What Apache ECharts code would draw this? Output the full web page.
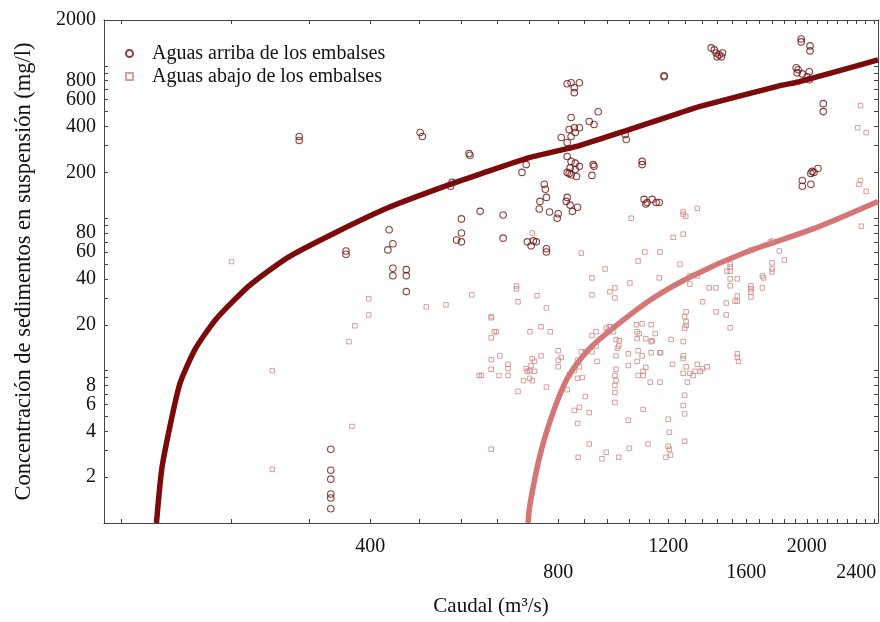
<!DOCTYPE html>
<html>
<head>
<meta charset="utf-8">
<title>Caudal y sedimentos en suspensión</title>
<script src="https://cdn.jsdelivr.net/npm/echarts@6/dist/echarts.min.js"></script>
<style>
html, body { margin: 0; padding: 0; background: #fff; }
#chart { width: 880px; height: 622px; }
</style>
</head>
<body>
<div id="chart"></div>
<script>
// puntos: [caudal m3/s, concentracion mg/l]
var aguasArriba = [
    [308,344],[308,324],[481,365],[485,344],[576,266],[578,259],[541,172],[538,162],
    [560,99],[560,80],[550,72],[560,70],[429,84],[435,68],[427,62],[366,61],[366,58],
    [435,47],[435,42],[457,46],[457,42],[457,33],
    [346,3.05],[346,2.22],[346,1.94],[346,1.55],[346,1.46],[346,1.24],
    [700,200],[711,225],[760,167],[763,155],[748,129],[766,137],
    [827,763],[839,775],[849,719],[865,775],[849,667],[839,458],
    [833,382],[849,393],[865,393],[852,365],[839,344],[827,314],[809,339],
    [897,431],[913,412],[927,500],[827,254],
    [839,236],[852,230],[865,219],[836,214],[852,209],[833,197],[839,193],[856,188],[827,200],
    [910,225],[913,219],[906,191],[1024,354],[1028,329],[1090,236],[1090,225],
    [1098,133],[1110,127],[1131,133],[1148,127],[1161,127],[1105,124],
    [1182,861],[1182,848],
    [1406,1312],[1422,1274],[1432,1216],[1448,1180],[1466,1216],[1460,1146],[1437,1146],
    [1959,1502],[1959,1436],[2024,1352],[2024,1254],
    [1923,971],[1937,942],[1930,900],[1967,886],[2018,914],[2003,848],[2018,811],
    [2125,565],[2125,501],[2084,212],[2053,200],[2030,197],[2040,203],
    [1967,177],[1967,162],[2030,167],
    [746,115],[775,110],[800,107],[797,100],
    [827,137],[824,129],[836,122],[859,118],[843,111],
    [600,111],[653,105],[653,74],
    [714,70],[724,66],[730,71],[738,70],[766,63],[766,60]
];

var aguasAbajo = [
    [240,52],[279,10],[279,2.25],[398,29.6],[398,23.2],[378,19.7],[370,15.5],[374,4.3],
    [492,26.2],[529,27],[582,31.4],[598,9.3],
    [727,80],[871,59],[951,46.4],[906,40.6],[906,31.4],[968,32.9],[986,34.9],[986,30],
    [686,34.4],[686,36],[740,31],[690,28.3],[766,25.8],
    [625,22.2],[637,18],[625,16.4],[721,18],[751,19.4],[777,18],[1002,15.7],
    [1047,100],[1268,106],[1280,103],[1268,110],[1336,116],[1222,75],[1268,78.7],
    [1164,60],[1101,60],[1074,52.4],
    [1042,37.6],[1161,40.6],[1253,50],[1300,37],[1300,41.8],[1336,41.8],[1362,28.3],
    [1396,34.9],[1430,34.9],
    [1508,36],[1548,40],[1508,40],[1508,45],[1508,47.9],[1490,45],[1508,50],
    [1548,30.9],[1548,28.6],[1535,28.6],[1486,27.8],
    [1628,36],[1628,34.4],[1628,32.9],[1628,30.4],
    [1698,34.9],[1698,41.8],[1705,40.6],
    [1760,44.4],[1760,46.4],[1760,50.9],[1841,53.2],[1807,61],[1760,70.8],[1748,69.7],[1628,61.8],
    [2445,88.7],[2437,548],[2412,393],[2489,365],[2437,177],[2424,167],[2489,150],
    [1508,19.1],[1432,24.3],[1486,23.2],
    [1548,12.9],[1548,12.2],[1555,11.5],
    [1282,24.3],[1275,22.6],[1282,20.9],[1282,19.8],[1275,19],
    [1268,15.5],[1268,12.5],[1268,12],
    [1282,10.6],[1268,9.6],[1300,9.6],[1325,9.9],[1336,11],[1362,10.3],[1385,10.6],[1315,9.3],[1351,9.9],
    [1288,8.4],[1275,6.9],[1268,5.9],[1275,5.2],
    [1200,4.8],[1205,3.94],[1200,3.19],[1205,3.05],[1210,2.79],[1190,2.7],
    [1275,3.44],[1114,3.3],[1040,3.1],[1000,2.7],[955,2.91],[940,2.64],[861,2.7],[897,3.3],
    [1036,4.72],[1094,5.56],[859,4.5],[849,5.48],[865,5.74],[897,5.3],[884,6.76],
    [986,6.18],[986,7.19],[986,8],[990,8.6],[986,9.3],[990,10.2],
    [1036,10.8],[1036,12.9],[1074,13.5],[1090,12.5],[1127,13.1],[1167,13.1],
    [1070,16.2],[1105,16.2],[1070,18],[1090,20.3],[1067,20],[1078,17.5],[1127,15.5],[1131,15.7],
    [1144,17.5],[1127,20],
    [1213,16],[1164,13.1],[1219,11],[1094,9.9],[1105,10.5],
    [990,12.5],[995,14],[1000,14.5],[1070,11.5],[1094,9.3],[1074,9.3],
    [1164,8.4],[1123,8.4],[981,18],[990,16],[960,18],[970,19.4],
    [923,11.5],[906,13.3],[920,14.5],
    [884,13.3],[871,13.3],[859,11.7],[849,10],[865,10.6],[874,9],[859,8.9],[833,9.4],[827,7.5],
    [800,13.5],[809,12.2],[800,10.6],[766,7.8],[800,11.7],
    [751,12.5],[727,12],[733,11.5],[724,10.8],[720,10],[711,10.3],[714,9.9],[720,8.9],[704,8.6],
    [727,8.6],[733,9.9],[690,7.3],
    [665,11],[665,10.3],[665,9.3],[645,12.5],[643,9.3],[625,11.8],[625,10.2],[603,9.3],
    [625,22.6],[632,18],[625,3.05],
    [906,17],[920,18],[955,19],[965,19.4]
];

// curvas de ajuste
var curvaArriba = [
    [182,1],[186,2.4],[198,8.0],[210,13.9],[227,21.9],[256,36],[296,55.6],[353,81],
    [429,118],[522,160],[598,194],[719,250],[865,300],[1039,382],[1250,490],[1345,540],
    [1807,740],[1946,787],[2600,1096]
];
var curvaAbajo = [
    [716,1],[719,1.22],[724,1.46],[746,2.66],[779,4.86],[827,8.87],[897,13.9],[976,18.8],
    [1131,29.6],[1311,41.8],[1600,60],[2040,84.8],[2600,129]
];

var xTicks = [160,240,320,400,480,560,640,720,800,880,960,1040,1120,1200,1280,1360,1440,
    1520,1600,1680,1760,1840,1920,2000,2080,2160,2240,2320,2400,2480,2560];
var xLabels = [400,800,1200,1600,2000,2400];
var xLabelsAbajo = [800,1600,2400];
var yTicks = [1,2,3,4,5,6,7,8,9,10,20,30,40,50,60,70,80,90,100,200,300,400,500,600,700,800,900,1000,2000];
var yLabels = [2,4,6,8,20,40,60,80,200,400,600,800,2000];

var fuente = 'Liberation Serif';
var colorEje = '#444';

function lg(v) { return Math.log10(v); }
function toLog(pts) {
    return pts.map(function (p) { return [lg(p[0]), lg(p[1])]; });
}
function num(v) { return Math.round(Math.pow(10, v)); }

var myChart = echarts.init(document.getElementById('chart'));

var ejeX = function (abajo) {
    return {
        type: 'value',
        position: abajo ? 'bottom' : 'top',
        min: lg(150),
        max: lg(2600),
        axisLine: { show: true, onZero: false, lineStyle: { color: colorEje, width: 1 } },
        axisTick: { show: true, inside: true, length: 4, customValues: xTicks.map(lg),
            lineStyle: { color: colorEje } },
        axisLabel: abajo ? {
            customValues: xLabels.map(lg),
            formatter: function (v) {
                var n = num(v);
                return xLabelsAbajo.indexOf(n) >= 0 ? '\n' + n : '' + n;
            },
            fontFamily: fuente, fontSize: 20, color: '#111', lineHeight: 26, margin: 11
        } : { show: false },
        splitLine: { show: false }
    };
};
var ejeY = function (izq) {
    return {
        type: 'value',
        position: izq ? 'left' : 'right',
        min: 0,
        max: lg(2000),
        axisLine: { show: true, onZero: false, lineStyle: { color: colorEje, width: 1 } },
        axisTick: { show: true, inside: true, length: 4, customValues: yTicks.map(lg),
            lineStyle: { color: colorEje } },
        axisLabel: izq ? {
            customValues: yLabels.map(lg),
            formatter: function (v) { return '' + num(v); },
            fontFamily: fuente, fontSize: 20, color: '#111', margin: 8
        } : { show: false },
        splitLine: { show: false }
    };
};

var xBottom = ejeX(true);
xBottom.name = 'Caudal (m³/s)';
xBottom.nameLocation = 'middle';
xBottom.nameGap = 73;
xBottom.nameTextStyle = { fontFamily: fuente, fontSize: 21, color: '#111' };

var yLeft = ejeY(true);
yLeft.name = 'Concentración de sedimentos en suspensión (mg/l)';
yLeft.nameLocation = 'middle';
yLeft.nameGap = 68;
yLeft.nameTextStyle = { fontFamily: fuente, fontSize: 22.5, color: '#111' };

var option = {
    backgroundColor: '#fff',
    animation: false,
    grid: { left: 104, right: 2, top: 20, bottom: 97 },
    xAxis: [xBottom, ejeX(false)],
    yAxis: [yLeft, ejeY(false)],
    legend: {
        data: ['Aguas arriba de los embalses', 'Aguas abajo de los embalses'],
        orient: 'vertical',
        left: 120,
        top: 37,
        itemWidth: 7,
        itemHeight: 7,
        itemGap: 0,
        textStyle: { fontFamily: fuente, fontSize: 20, lineHeight: 23, color: '#111',
            padding: [0, 0, 0, 14] }
    },
    series: [
        {
            name: 'curva arriba',
            type: 'line',
            data: toLog(curvaArriba),
            symbol: 'none',
            smooth: 0.2,
            silent: true,
            clip: true,
            lineStyle: { color: '#7d0a0a', width: 5.5 },
            z: 2
        },
        {
            name: 'curva abajo',
            type: 'line',
            data: toLog(curvaAbajo),
            symbol: 'none',
            smooth: 0.3,
            silent: true,
            clip: true,
            lineStyle: { color: '#d57676', width: 5.5 },
            z: 2
        },
        {
            name: 'Aguas arriba de los embalses',
            type: 'scatter',
            data: toLog(aguasArriba),
            symbol: 'circle',
            symbolSize: 6.5,
            itemStyle: { color: 'rgba(0,0,0,0)', borderColor: '#6e1010', borderWidth: 1.1 },
            z: 4
        },
        {
            name: 'Aguas abajo de los embalses',
            type: 'scatter',
            data: toLog(aguasAbajo),
            symbol: 'rect',
            symbolSize: 4.5,
            itemStyle: { color: 'rgba(0,0,0,0)', borderColor: '#d08484', borderWidth: 1 },
            z: 3
        }
    ]
};
myChart.setOption(option);
</script>
</body>
</html>
